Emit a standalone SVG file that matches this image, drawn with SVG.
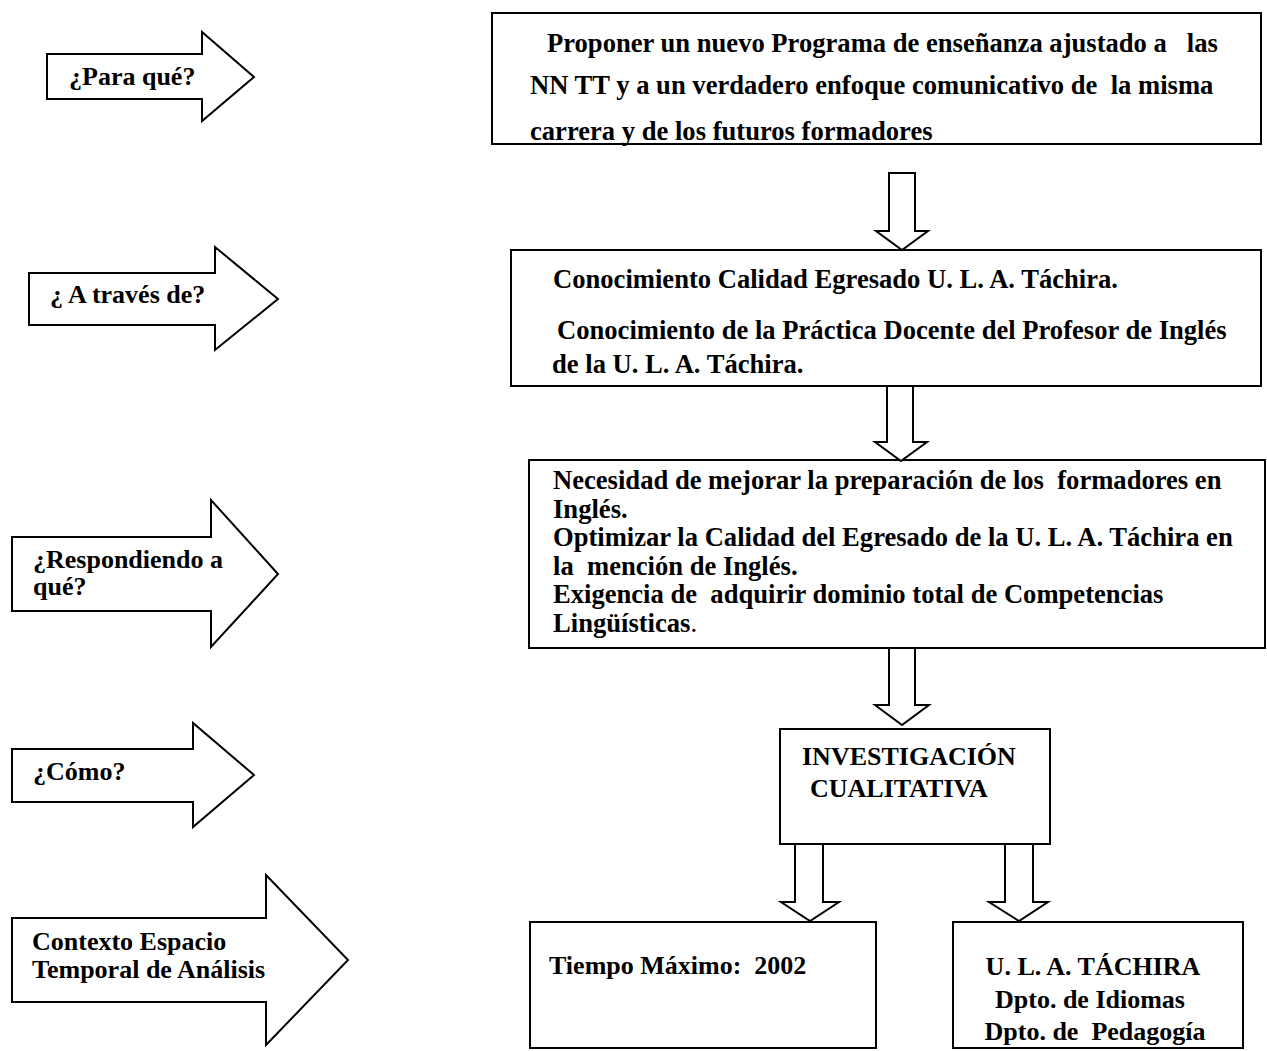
<svg xmlns="http://www.w3.org/2000/svg" width="1267" height="1051" viewBox="0 0 1267 1051">
<style>
  .shape { fill: #ffffff; stroke: #000000; stroke-width: 2; stroke-linejoin: miter; }
  .t { font-family: "Liberation Serif", "Times New Roman", serif; font-weight: bold; font-size: 26px; fill: #000000; white-space: pre; }
  .b { font-size: 26.6px; }
  .mid { text-anchor: middle; }
  .thin { font-weight: normal; }
</style>
<rect x="0" y="0" width="1267" height="1051" fill="#ffffff"/>

<g id="q-para-que">
  <polygon class="shape" points="47,54 202,54 202,32 254,77 202,121 202,99 47,99"/>
  <text class="t" x="69" y="85">¿Para qué?</text>
</g>
<g id="q-a-traves">
  <polygon class="shape" points="29,273 215,273 215,247 278,299 215,350 215,325 29,325"/>
  <text class="t" x="50" y="303">¿ A través de?</text>
</g>
<g id="q-respondiendo">
  <polygon class="shape" points="12,537 211,537 211,500 278,574 211,647 211,611 12,611"/>
  <text class="t" x="33" y="568">¿Respondiendo a</text>
  <text class="t" x="33" y="595">qué?</text>
</g>
<g id="q-como">
  <polygon class="shape" points="12,749 193,749 193,723 254,775 193,827 193,802 12,802"/>
  <text class="t" x="33" y="780">¿Cómo?</text>
</g>
<g id="q-contexto">
  <polygon class="shape" points="12,918 266,918 266,875 348,960 266,1045 266,1002 12,1002"/>
  <text class="t" x="32" y="950">Contexto Espacio</text>
  <text class="t" x="32" y="978">Temporal de Análisis</text>
</g>

<g id="box-proponer">
  <rect class="shape" x="492" y="13" width="769" height="131"/>
  <text class="t b" x="547" y="52" xml:space="preserve">Proponer un nuevo Programa de enseñanza ajustado a   las</text>
  <text class="t b" x="530" y="94" xml:space="preserve">NN TT y a un verdadero enfoque comunicativo de  la misma</text>
  <text class="t b" x="530" y="140">carrera y de los futuros formadores</text>
</g>
<g id="box-conocimiento">
  <rect class="shape" x="511" y="250" width="750" height="136"/>
  <text class="t b" x="553" y="288">Conocimiento Calidad Egresado U. L. A. Táchira.</text>
  <text class="t b" x="557" y="339">Conocimiento de la Práctica Docente del Profesor de Inglés</text>
  <text class="t b" x="552" y="373">de la U. L. A. Táchira.</text>
</g>
<g id="box-necesidad">
  <rect class="shape" x="529" y="460" width="736" height="188"/>
  <text class="t b" x="553" y="489" xml:space="preserve">Necesidad de mejorar la preparación de los  formadores en</text>
  <text class="t b" x="553" y="518">Inglés.</text>
  <text class="t b" x="553" y="546">Optimizar la Calidad del Egresado de la U. L. A. Táchira en</text>
  <text class="t b" x="553" y="575" xml:space="preserve">la  mención de Inglés.</text>
  <text class="t b" x="553" y="603" xml:space="preserve">Exigencia de  adquirir dominio total de Competencias</text>
  <text class="t b" x="553" y="632">Lingüísticas<tspan class="thin">.</tspan></text>
</g>
<g id="box-investigacion">
  <rect class="shape" x="780" y="729" width="270" height="115"/>
  <text class="t" x="802" y="765">INVESTIGACIÓN</text>
  <text class="t" x="810" y="797">CUALITATIVA</text>
</g>
<g id="box-tiempo">
  <rect class="shape" x="530" y="922" width="346" height="126"/>
  <text class="t" x="549" y="974" xml:space="preserve">Tiempo Máximo:  2002</text>
</g>
<g id="box-ula">
  <rect class="shape" x="953" y="922" width="290" height="126"/>
  <text class="t mid" x="1093" y="975">U. L. A. TÁCHIRA</text>
  <text class="t mid" x="1090" y="1008">Dpto. de Idiomas</text>
  <text class="t mid" x="1095" y="1040" xml:space="preserve">Dpto. de  Pedagogía</text>
</g>

<g id="connectors">
  <polygon class="shape" points="889,173 889,231 876,231 902,250 928,231 915,231 915,173"/>
  <polygon class="shape" points="887,386 887,442 875,442 901,461 927,442 913,442 913,386"/>
  <polygon class="shape" points="889,648 889,705 875,705 902,725 929,705 915,705 915,648"/>
  <polygon class="shape" points="795,844 795,902 781,902 810,921 839,902 823,902 823,844"/>
  <polygon class="shape" points="1005,844 1005,902 989,902 1019,921 1048,902 1033,902 1033,844"/>
</g>
</svg>
